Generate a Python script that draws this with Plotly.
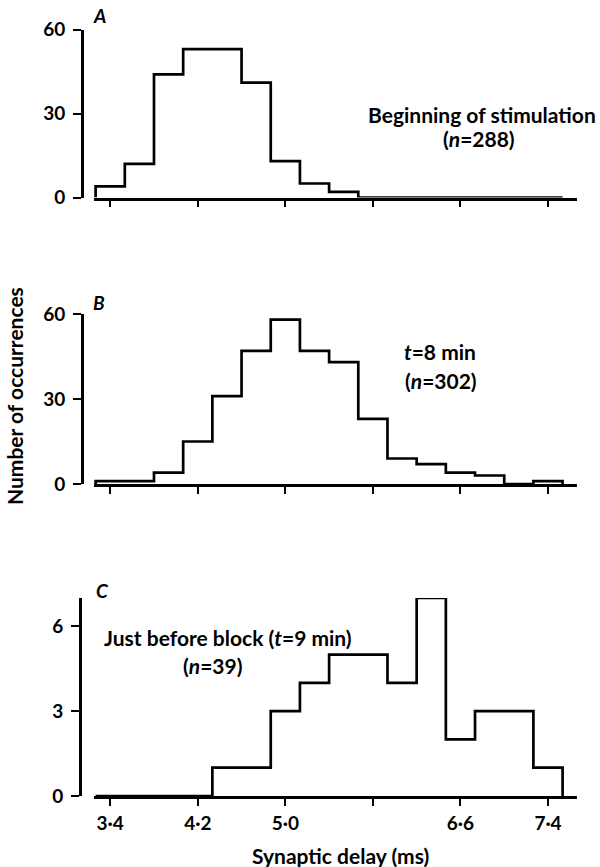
import plotly.graph_objects as go

# ---- data ----
BIN_WIDTH = 0.8 / 3          # ms
FIRST_CENTER = 3.4           # ms, centre of first bin
counts_A = [4, 12, 44, 53, 53, 41, 13, 5, 2, 0, 0, 0, 0, 0, 0, 0]
counts_B = [1, 1, 4, 15, 31, 47, 58, 47, 43, 23, 9, 7, 4, 3, 0, 1]
counts_C = [0, 0, 0, 0, 1, 1, 3, 4, 5, 5, 4, 7, 2, 3, 3, 1]
x_tick_vals = [3.4, 4.2, 5.0, 5.8, 6.6, 7.4]
x_tick_text = ["3·4", "4·2", "5·0", "", "6·6", "7·4"]
y_ticks_AB = [0, 30, 60]
y_ticks_C = [0, 3, 6]
panel_labels = ["A", "B", "C"]
notes_A = ["Beginning of stimulation", "(<i>n</i>=288)"]
notes_B = ["<i>t</i>=8 min", "(<i>n</i>=302)"]
notes_C = ["Just before block (<i>t</i>=9 min)", "(<i>n</i>=39)"]
x_title = "Synaptic delay (ms)"
y_title = "Number of occurrences"


def steps(counts):
    edges = [FIRST_CENTER - BIN_WIDTH / 2 + k * BIN_WIDTH for k in range(len(counts) + 1)]
    xs, ys = [edges[0]], [0]
    for i, c in enumerate(counts):
        xs += [edges[i], edges[i + 1]]
        ys += [c, c]
    xs.append(edges[-1])
    ys.append(0)
    return xs, ys


W, H = 600, 867
FONT = "Lato"


def px(x):
    return x / W


def py(y):
    return 1 - y / H


fig = go.Figure()
for i, counts in enumerate([counts_A, counts_B, counts_C]):
    xs, ys = steps(counts)
    sfx = "" if i == 0 else str(i + 1)
    fig.add_trace(go.Scatter(x=xs, y=ys, mode="lines",
                             line=dict(color="black", width=2.7),
                             xaxis="x" + sfx, yaxis="y" + sfx,
                             showlegend=False, hoverinfo="skip"))

x_range = [3.25, 7.665]
x_dom = [px(93.8), px(577)]
y_doms = [[py(197.5), py(29.5)], [py(484), py(314)], [py(796), py(598)]]
y_ranges = [[0, 60], [0, 60], [0, 7]]
y_pos = [px(82), px(82), px(80)]
y_tick_sets = [y_ticks_AB, y_ticks_AB, y_ticks_C]

tickfont = dict(family=FONT, size=19, color="black", weight="bold")
common = dict(showline=True, linecolor="black", linewidth=2.6, ticks="outside",
              tickcolor="black", tickwidth=2, showgrid=False, zeroline=False,
              tickfont=tickfont, automargin=False)

layout = dict(width=W, height=H, autosize=False,
              margin=dict(l=0, r=0, t=0, b=0, pad=0),
              paper_bgcolor="white", plot_bgcolor="white",
              showlegend=False)
for i in range(3):
    sfx = "" if i == 0 else str(i + 1)
    layout["xaxis" + sfx] = dict(common, domain=x_dom, range=x_range,
                                 anchor="y" + sfx, tickvals=x_tick_vals,
                                 ticktext=x_tick_text, ticklen=7,
                                 showticklabels=(i == 2), ticklabelstandoff=1)
    layout["yaxis" + sfx] = dict(common, domain=y_doms[i], range=y_ranges[i],
                                 anchor="free", position=y_pos[i],
                                 tickvals=y_tick_sets[i], ticklen=8,
                                 ticklabelstandoff=4)
fig.update_layout(**layout)

textfont = dict(family=FONT, size=21, color="black", weight="bold")
ann = []
label_pos = [(99, 16), (99, 302), (102, 590)]
for lab, (x, y) in zip(panel_labels, label_pos):
    ann.append(dict(text="<i>" + lab + "</i>", x=px(x), y=py(y), xref="paper", yref="paper",
                    showarrow=False, xanchor="center", yanchor="middle",
                    font=dict(textfont, size=19)))
note_pos = [(notes_A, [(482, 115), (479, 138)]),
            (notes_B, [(440, 352), (441, 380)]),
            (notes_C, [(228, 637), (212, 665)])]
for texts, poss in note_pos:
    for t, (x, y) in zip(texts, poss):
        ann.append(dict(text=t, x=px(x), y=py(y), xref="paper", yref="paper",
                        showarrow=False, xanchor="center", yanchor="middle", font=textfont))
ann.append(dict(text=x_title, x=px(340), y=py(855), xref="paper", yref="paper",
                showarrow=False, xanchor="center", yanchor="middle", font=textfont))
ann.append(dict(text=y_title, x=px(14), y=py(396), xref="paper", yref="paper",
                showarrow=False, xanchor="center", yanchor="middle", textangle=-90,
                font=dict(textfont, size=21)))
fig.update_layout(annotations=ann)

fig.write_html("out.html")
